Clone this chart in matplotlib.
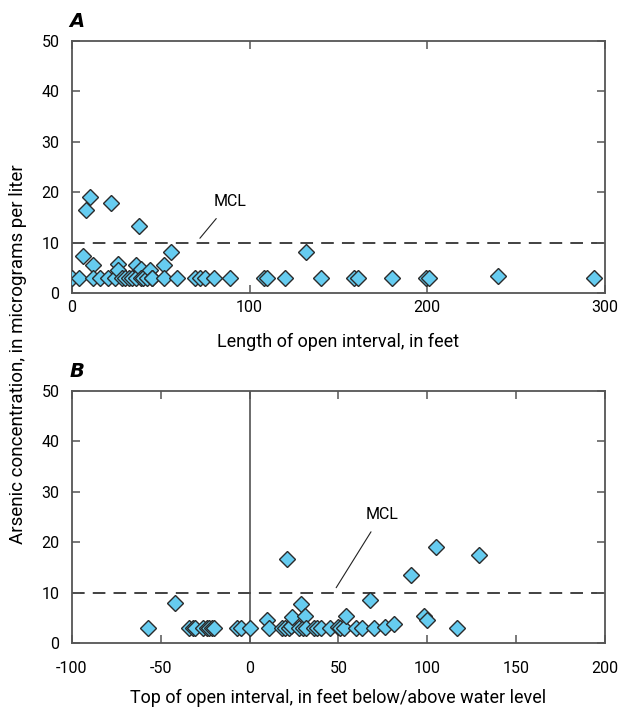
import numpy as np
import matplotlib
matplotlib.use('Agg')
import matplotlib.pyplot as plt

plt.rcParams['font.family'] = ['Roboto', 'DejaVu Sans']
plt.rcParams['axes.unicode_minus'] = False

# panel A: length of open interval (ft) vs arsenic (ug/L)
lenA = [0, 4, 6, 8, 10, 12, 12, 16, 20, 22, 24, 26, 26, 28, 30, 32, 34, 36,
        36, 38, 39, 39, 40, 42, 44, 45, 45, 52, 52, 56, 59, 69, 72, 75, 80,
        89, 108, 110, 120, 132, 140, 159, 161, 180, 199, 201, 240, 294]
asA = [3, 3, 7.4, 16.5, 19.1, 5.6, 3, 3, 3, 17.8, 3, 5.9, 4.6, 3, 3, 3, 3,
       5.6, 3, 13.4, 4.9, 3, 3, 3, 4.6, 3, 3, 5.6, 3, 8.2, 3, 3, 3, 3, 3,
       3, 3, 3, 3, 8.2, 3, 3, 3, 3, 3, 3, 3.4, 3]

# panel B: top of open interval relative to water level (ft)
topB = [-57, -42, -34, -32, -31, -26, -24, -23, -21, -20, -7, -5, 0, 10, 11,
        18, 20, 21, 22, 23, 24, 28, 29, 30, 31, 32, 36, 38, 40, 45, 50, 51,
        53, 54, 60, 63, 68, 70, 76, 81, 91, 98, 100, 105, 117, 129]
asB = [3, 8.0, 3, 3, 3, 3, 3, 3, 3, 3, 3, 3, 3, 4.6, 3,
       3, 3, 16.7, 3, 3.5, 5.2, 3, 7.8, 3, 5.5, 3, 3, 3, 3, 3, 3.2, 3,
       3, 5.5, 3, 3, 8.5, 3, 3.2, 3.9, 13.6, 5.5, 4.7, 19.1, 3, 17.5]

MCL = 10
fill = '#66CCF0'
edge = '#2b2b2b'
axcol = '#555555'

fig = plt.figure(figsize=(6.19, 7.08), dpi=100)
axA = fig.add_axes([0.1163, 0.5857, 0.861, 0.3568])
axB = fig.add_axes([0.1163, 0.0914, 0.861, 0.3568])


def style(ax, xlim, xticks, xpad):
    ax.set_xlim(*xlim)
    ax.set_ylim(0, 50)
    ax.set_xticks(xticks)
    ax.set_yticks([0, 10, 20, 30, 40, 50])
    ax.tick_params(axis='x', direction='in', top=True, bottom=True,
                   length=6, width=1.1, color=axcol, labelsize=11.5, pad=xpad)
    ax.tick_params(axis='y', direction='in', left=True, right=True,
                   length=6, width=1.1, color=axcol, labelsize=11.5, pad=9)
    for s in ax.spines.values():
        s.set_color(axcol)
        s.set_linewidth(1.3)
    ax.axhline(MCL, color='#333333', lw=1.3, dashes=(7, 4.5), zorder=1)


# A
style(axA, (0, 300), [0, 100, 200, 300], 5)
axA.plot(lenA, asA, 'D', ms=8.3, mfc=fill, mec=edge, mew=1.0, zorder=3)
axA.set_xlabel('Length of open interval, in feet', fontsize=13, labelpad=13)
axA.annotate('MCL', xy=(72, 10.9), xytext=(89, 18.1), fontsize=11.5,
             ha='center', va='center',
             arrowprops=dict(arrowstyle='-', color='#222222', lw=0.8,
                             shrinkA=6, shrinkB=0))
axA.text(-0.005, 1.055, 'A', transform=axA.transAxes, fontsize=14,
         fontweight='bold', fontstyle='italic', family='DejaVu Sans')

# B
style(axB, (-100, 200), [-100, -50, 0, 50, 100, 150, 200], 13)
axB.axvline(0, color='#444444', lw=1.1, zorder=1)
axB.plot(topB, asB, 'D', ms=8.3, mfc=fill, mec=edge, mew=1.0, zorder=3)
axB.set_xlabel('Top of open interval, in feet below/above water level',
               fontsize=13, labelpad=9)
axB.annotate('MCL', xy=(48.7, 11.0), xytext=(74.4, 25.5), fontsize=11.5,
             ha='center', va='center',
             arrowprops=dict(arrowstyle='-', color='#222222', lw=0.8,
                             shrinkA=6, shrinkB=0))
axB.text(-0.005, 1.055, 'B', transform=axB.transAxes, fontsize=14,
         fontweight='bold', fontstyle='italic', family='DejaVu Sans')

fig.text(0.029, 0.5, 'Arsenic concentration, in micrograms per liter',
         rotation=90, ha='center', va='center', fontsize=13.5)

fig.savefig('out.png', dpi=100)
